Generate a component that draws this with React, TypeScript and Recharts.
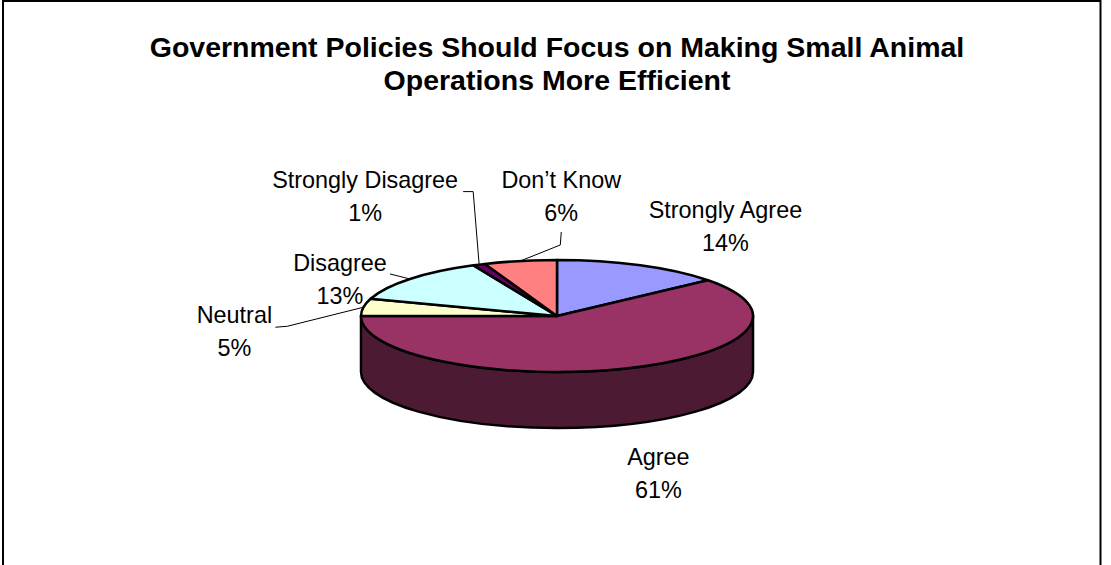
import { PieChart, Pie, Cell } from "recharts";

const categories = ["Strongly Agree", "Agree", "Neutral", "Disagree", "Strongly Disagree", "Don’t Know"];
const shares = [14, 61, 5, 13, 1, 6];
const colors = ["#9999FF", "#993366", "#FFFFCC", "#CCFFFF", "#660066", "#FF8080"];

const titleLines = ["Government Policies Should Focus on Making Small Animal", "Operations More Efficient"];

// label anchor, relative to the rim point at the slice's middle angle (x centre, first baseline)
const labelShift = [[85, -47], [35, 96], [-129, 16], [-70, -8], [-114, -77], [41, -73]];
// leader line bends, relative to the label anchor
const leaders = [[], [], [[53, 3], [41, 4]], [[50, 3]], [[108, 4], [98, 4]], [[-1, 57], [0, 44]]];

const data = categories.map((name, i) => ({ name, value: shares[i] }));

const TILT = 56 / 196; // ellipse squash and wall height, as a share of the radius
const FONT = "'Liberation Sans', Arial, sans-serif";

function darken(hex: string, k = 0.5) {
  const n = parseInt(hex.slice(1), 16);
  const c = [(n >> 16) & 255, (n >> 8) & 255, n & 255].map((v) => Math.round(v * k));
  return `rgb(${c.join(",")})`;
}

function Slice3D(props: any) {
  const { cx, cy, outerRadius: rx, startAngle, endAngle, fill } = props;
  const ry = rx * TILT;
  const depth = rx * TILT;
  const pt = (a: number, dy = 0) => {
    const r = (a * Math.PI) / 180;
    return `${cx + rx * Math.cos(r)},${cy - ry * Math.sin(r) + dy}`;
  };
  const hi = Math.max(startAngle, endAngle);
  const lo = Math.min(startAngle, endAngle);

  // front wall: parts of the slice facing the viewer (sin < 0)
  const walls: string[] = [];
  for (const k of [-1, 0, 1]) {
    const a = Math.min(hi, 360 * k);
    const b = Math.max(lo, -180 + 360 * k);
    if (a - b > 0.01) {
      walls.push(
        `M${pt(a)} A${rx},${ry} 0 0 1 ${pt(b)} L${pt(b, depth)} A${rx},${ry} 0 0 0 ${pt(a, depth)} Z`
      );
    }
  }
  const large = hi - lo > 180 ? 1 : 0;
  const top = `M${cx},${cy} L${pt(hi)} A${rx},${ry} 0 ${large} 1 ${pt(lo)} Z`;

  return (
    <g>
      {walls.map((d, i) => (
        <path key={i} d={d} fill={darken(fill)} stroke="#000" strokeWidth={2.5} strokeLinejoin="round" />
      ))}
      <path d={top} fill={fill} stroke="#000" strokeWidth={2.5} strokeLinejoin="round" />
    </g>
  );
}

const renderLabel = (p: any) => {
  const { cx, cy, midAngle, outerRadius, index } = p;
  const r = (midAngle * Math.PI) / 180;
  const rimX = cx + outerRadius * Math.cos(r);
  const rimY = cy - outerRadius * TILT * Math.sin(r);
  const [dx, dy] = labelShift[index];
  const lx = rimX + dx;
  const ly = rimY + dy;
  const pts = [[rimX, rimY], ...leaders[index].map(([a, b]) => [lx + a, ly + b])];
  return (
    <g key={`lbl-${index}`}>
      {pts.length > 1 && (
        <polyline points={pts.map((q) => q.join(",")).join(" ")} fill="none" stroke="#000" strokeWidth={1} />
      )}
      <text x={lx} y={ly} textAnchor="middle" fontFamily={FONT} fontSize={23.4} fill="#000">
        {categories[index]}
      </text>
      <text x={lx} y={ly + 33} textAnchor="middle" fontFamily={FONT} fontSize={23.4} fill="#000">
        {`${shares[index]}%`}
      </text>
    </g>
  );
};

export default function App() {
  return (
    <div style={{ position: "absolute", left: 0, top: 0, width: 1111, height: 565, overflow: "hidden", background: "#fff" }}>
      <PieChart width={1111} height={565} margin={{ top: 0, right: 0, bottom: 0, left: 0 }}>
        <Pie
          data={data}
          dataKey="value"
          nameKey="name"
          cx={557}
          cy={316}
          outerRadius={196}
          startAngle={90}
          endAngle={-270}
          isAnimationActive={false}
          label={renderLabel}
          labelLine={false}
          shape={Slice3D}
          activeShape={Slice3D}
          inactiveShape={Slice3D}
        >
          {data.map((d, i) => (
            <Cell key={d.name} fill={colors[i]} />
          ))}
        </Pie>
      </PieChart>
      <svg width={1111} height={565} style={{ position: "absolute", left: 0, top: 0, pointerEvents: "none" }}>
        <rect x={3} y={1} width={1097.5} height={620} fill="none" stroke="#000" strokeWidth={2} />
        {titleLines.map((t, i) => (
          <text key={t} x={557} y={57 + i * 33} textAnchor="middle" fontFamily={FONT} fontWeight="bold" fontSize={28.5} fill="#000">
            {t}
          </text>
        ))}
      </svg>
    </div>
  );
}
